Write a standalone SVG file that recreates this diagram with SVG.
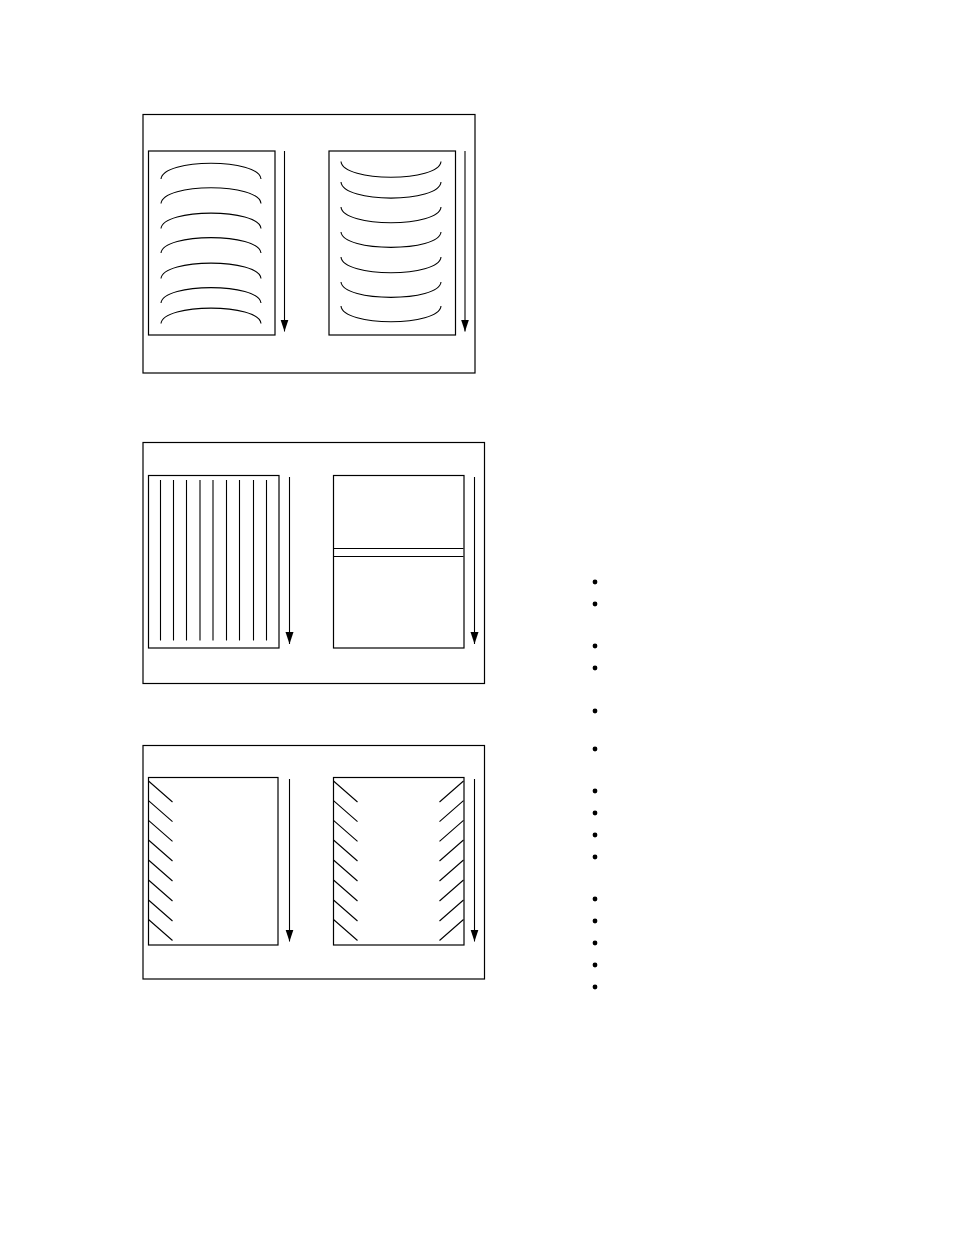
<svg xmlns="http://www.w3.org/2000/svg" width="954" height="1235" viewBox="0 0 954 1235">
<defs>
<style>
.box{fill:none;stroke:#000;stroke-width:1.2}
.ln{fill:none;stroke:#000;stroke-width:1.1}
.arr{fill:none;stroke:#000;stroke-width:1.1;marker-end:url(#ah)}
.dot{fill:#000}
</style>
<marker id="ah" markerUnits="userSpaceOnUse" markerWidth="13" markerHeight="9" viewBox="0 -4.5 13 9" refX="12" refY="0" orient="auto">
<path d="M0,-4 L12,0 L0,4 Z" fill="#000"/>
</marker>
</defs>
<rect width="954" height="1235" fill="#fff"/>

<g id="panel1">
<rect class="box" x="143" y="114.5" width="332" height="258.5"/>
<g id="p1-left">
<rect class="box" x="148.5" y="151" width="126.5" height="184"/>
<path class="ln" d="M161,179 C163,158 259,158 261,179 M161,203.5 C163,182.5 259,182.5 261,203.5 M161,228.5 C163,208 259,208 261,228.5 M161,253 C163,232.5 259,232.5 261,253 M161,278.5 C163,258 259,258 261,278.5 M161,303 C163,282.5 259,282.5 261,303 M161,323.5 C163,303 259,303 261,323.5"/>
</g>
<g id="p1-right">
<rect class="box" x="329" y="151" width="126.5" height="184"/>
<path class="ln" d="M341,161.5 C343,182.5 439,182.5 441,161.5 M341,182 C343,203.5 439,203.5 441,182 M341,207 C343,228 439,228 441,207 M341,232 C343,252.5 439,252.5 441,232 M341,257 C343,278 439,278 441,257 M341,282 C343,302.5 439,302.5 441,282 M341,306 C343,327 439,327 441,306"/>
</g>
</g>

<g id="panel2">
<rect class="box" x="143" y="442.5" width="341.5" height="241"/>
<g id="p2-left">
<rect class="box" x="148.5" y="475.5" width="130.5" height="172.5"/>
<path class="ln" d="M160.5,480 V640.5 M173.5,480 V640.5 M186.5,480 V640.5 M200,480 V640.5 M213,480 V640.5 M226.5,480 V640.5 M239.5,480 V640.5 M253.5,480 V640.5 M266.5,480 V640.5"/>
</g>
<g id="p2-right">
<rect class="box" x="333.5" y="475.5" width="130.5" height="172.5"/>
<path class="ln" d="M333.5,548.5 H463.5 M333.5,556.5 H463.5"/>
</g>
</g>

<g id="panel3">
<rect class="box" x="143" y="745.5" width="341.5" height="233.5"/>
<g id="p3-left">
<rect class="box" x="148.5" y="777.5" width="129.5" height="167.5"/>
<path class="ln" d="M148.5,781 l24,21 M148.5,800.7 l24,21 M148.5,820.3 l24,21 M148.5,840 l24,21 M148.5,860 l24,21 M148.5,880 l24,21 M148.5,900 l24,21 M148.5,919.5 l24,21"/>
</g>
<g id="p3-right">
<rect class="box" x="333.5" y="777.5" width="130.5" height="167.5"/>
<path class="ln" d="M333.5,781 l24,21 M333.5,800.7 l24,21 M333.5,820.3 l24,21 M333.5,840 l24,21 M333.5,860 l24,21 M333.5,880 l24,21 M333.5,900 l24,21 M333.5,919.5 l24,21"/>
<path class="ln" d="M463.5,781 l-24,21 M463.5,800.7 l-24,21 M463.5,820.3 l-24,21 M463.5,840 l-24,21 M463.5,860 l-24,21 M463.5,880 l-24,21 M463.5,900 l-24,21 M463.5,919.5 l-24,21"/>
</g>
</g>

<g id="connectors">
<path class="arr" d="M284.5,151 V331.5"/>
<path class="arr" d="M465,151 V331.5"/>
<path class="arr" d="M289.5,477 V644"/>
<path class="arr" d="M474.5,477 V644"/>
<path class="arr" d="M289.5,779 V941.5"/>
<path class="arr" d="M474.5,779 V941.5"/>
</g>

<g id="bullets">
<circle class="dot" cx="595" cy="582" r="2.4"/>
<circle class="dot" cx="595" cy="604" r="2.4"/>
<circle class="dot" cx="595" cy="646" r="2.4"/>
<circle class="dot" cx="595" cy="668" r="2.4"/>
<circle class="dot" cx="595" cy="711" r="2.4"/>
<circle class="dot" cx="595" cy="749" r="2.4"/>
<circle class="dot" cx="595" cy="791" r="2.4"/>
<circle class="dot" cx="595" cy="813" r="2.4"/>
<circle class="dot" cx="595" cy="835" r="2.4"/>
<circle class="dot" cx="595" cy="857" r="2.4"/>
<circle class="dot" cx="595" cy="899" r="2.4"/>
<circle class="dot" cx="595" cy="921" r="2.4"/>
<circle class="dot" cx="595" cy="943" r="2.4"/>
<circle class="dot" cx="595" cy="965" r="2.4"/>
<circle class="dot" cx="595" cy="987" r="2.4"/>
</g>
</svg>
